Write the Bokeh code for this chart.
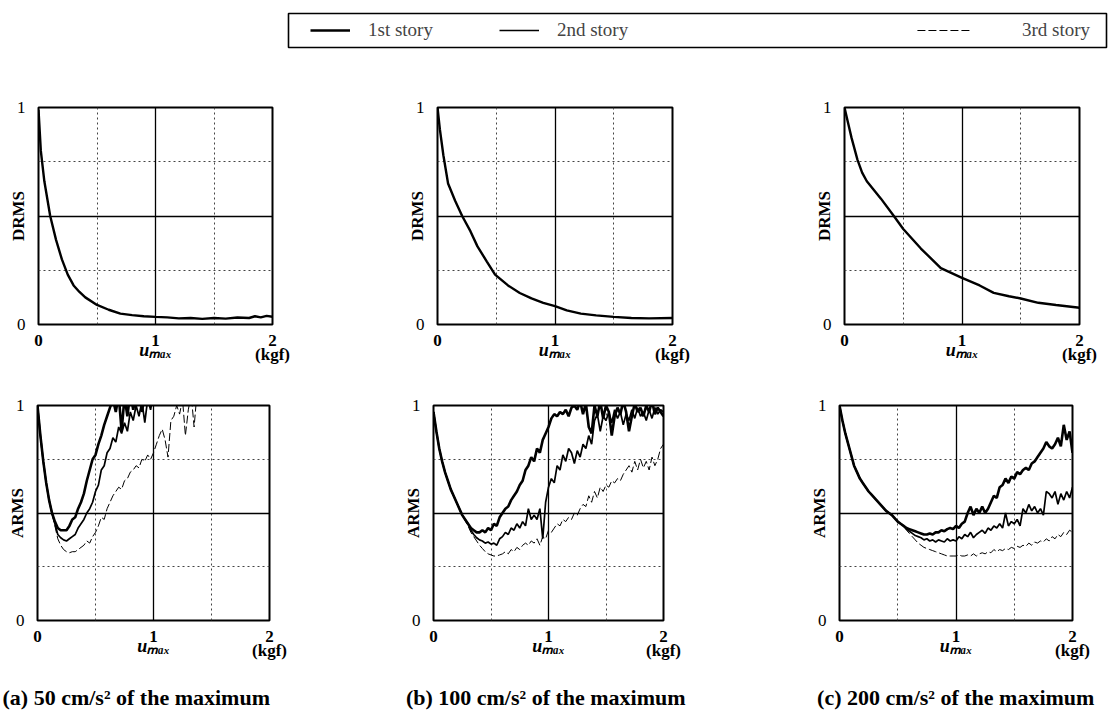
from bokeh.plotting import figure
from bokeh.layouts import column, row
from bokeh.models import FixedTicker, Grid, Label, Legend, LegendItem, Range1d
from bokeh.embed import file_html
from bokeh.resources import INLINE

# ---------------- data ----------------
x_arms = [0.0, 0.025, 0.05, 0.075, 0.1, 0.125, 0.15, 0.175, 0.2, 0.225,
          0.25, 0.275, 0.3, 0.325, 0.35, 0.375, 0.4, 0.425, 0.45, 0.475,
          0.5, 0.525, 0.55, 0.575, 0.6, 0.625, 0.65, 0.675, 0.7, 0.725,
          0.75, 0.775, 0.8, 0.825, 0.85, 0.875, 0.9, 0.925, 0.95, 0.975,
          1.0, 1.025, 1.05, 1.075, 1.1, 1.125, 1.15, 1.175, 1.2, 1.225,
          1.25, 1.275, 1.3, 1.325, 1.35, 1.375, 1.4, 1.425, 1.45, 1.475,
          1.5, 1.525, 1.55, 1.575, 1.6, 1.625, 1.65, 1.675, 1.7, 1.725,
          1.75, 1.775, 1.8, 1.825, 1.85, 1.875, 1.9, 1.925, 1.95, 1.975,
          2.0]

# DRMS (single curve per panel)
x_drms_a = [0, 0.02, 0.05, 0.1, 0.15, 0.2, 0.25, 0.3, 0.35, 0.4, 0.5, 0.6, 0.7, 0.8, 0.9,
            1.0, 1.1, 1.2, 1.3, 1.4, 1.5, 1.6, 1.7, 1.8, 1.85, 1.9, 1.95, 2.0]
drms_a = [0.99, 0.8, 0.66, 0.5, 0.39, 0.3, 0.23, 0.18, 0.15, 0.125, 0.09, 0.068, 0.05, 0.043, 0.038,
          0.035, 0.033, 0.028, 0.03, 0.026, 0.03, 0.027, 0.032, 0.03, 0.038, 0.033, 0.04, 0.036]

x_drms_b = [0, 0.02, 0.05, 0.09, 0.15, 0.21, 0.28, 0.34, 0.42, 0.49, 0.6, 0.7, 0.8, 0.9, 1.0,
            1.1, 1.22, 1.35, 1.5, 1.65, 1.8, 2.0]
drms_b = [1.0, 0.9, 0.78, 0.65, 0.57, 0.5, 0.43, 0.36, 0.29, 0.23, 0.18, 0.145, 0.12, 0.1, 0.085,
          0.065, 0.05, 0.042, 0.035, 0.03, 0.028, 0.03]

x_drms_c = [0, 0.03, 0.06, 0.11, 0.15, 0.19, 0.25, 0.31, 0.42, 0.5, 0.65, 0.82, 1.0, 1.15, 1.27,
            1.4, 1.5, 1.65, 1.8, 2.0]
drms_c = [1.0, 0.93, 0.86, 0.76, 0.7, 0.66, 0.62, 0.58, 0.5, 0.44, 0.35, 0.26, 0.215, 0.18, 0.146,
          0.13, 0.12, 0.1, 0.09, 0.077]

# ARMS (a) 50 cm/s^2
arms_a_1st = [1.0, 0.86, 0.74, 0.64, 0.56, 0.5, 0.46, 0.43, 0.42, 0.42,
              0.42, 0.44, 0.47, 0.48, 0.52, 0.55, 0.59, 0.65, 0.7, 0.75,
              0.77, 0.82, 0.86, 0.91, 0.95, 0.99, 1.03, 0.97, 1.05, 0.88,
              1.04, 0.95, 1.06, 0.98, 1.05, 1.08, 0.97, 1.06, 1.02, 1.1,
              1.05, 1.12, 1.15]
arms_a_2nd = [1.0, 0.86, 0.74, 0.64, 0.56, 0.5, 0.45, 0.4, 0.385, 0.375,
              0.37, 0.38, 0.39, 0.4, 0.43, 0.45, 0.47, 0.5, 0.52, 0.55,
              0.6, 0.63, 0.7, 0.72, 0.78, 0.8, 0.85, 0.83, 0.9, 0.87,
              0.92, 0.88, 0.97, 0.93, 1.0, 0.95, 1.02, 0.92, 1.03, 0.98,
              1.06, 1.04, 1.1, 1.15]
arms_a_3rd = [1.0, 0.86, 0.74, 0.64, 0.56, 0.5, 0.44, 0.38, 0.35, 0.33,
              0.32, 0.315, 0.32, 0.32, 0.33, 0.34, 0.35, 0.37, 0.36, 0.39,
              0.41, 0.44, 0.48, 0.47, 0.52, 0.55, 0.58, 0.6, 0.62, 0.61,
              0.65, 0.66, 0.69, 0.7, 0.72, 0.71, 0.75, 0.74, 0.77, 0.75,
              0.78, 0.82, 0.86, 0.89, 0.84, 0.76, 0.93, 0.95, 1.0, 0.96,
              1.03, 0.86, 0.98, 1.05, 0.9, 1.06, 1.1]

# ARMS (b) 100 cm/s^2
arms_b_1st = [0.97, 0.88, 0.8, 0.74, 0.69, 0.65, 0.61, 0.58, 0.55, 0.52,
              0.49, 0.47, 0.45, 0.43, 0.42, 0.41, 0.41, 0.42, 0.41, 0.43,
              0.42, 0.45, 0.44, 0.48, 0.5, 0.52, 0.53, 0.56, 0.58, 0.6,
              0.63, 0.65, 0.7, 0.72, 0.76, 0.74, 0.8, 0.78, 0.84, 0.87,
              0.9, 0.94, 0.96, 0.95, 0.97, 0.96, 0.98, 0.95, 0.99, 1.0,
              0.98, 1.02, 0.96, 1.01, 0.9, 0.87, 1.0, 0.95, 1.02, 0.94,
              1.0, 0.97, 0.86, 0.95, 0.99, 0.96, 1.02, 0.97, 0.88, 0.95,
              1.01, 0.97, 0.99, 0.95, 1.0, 0.97, 1.02, 0.96, 0.99, 0.97,
              0.95]
arms_b_2nd = [0.97, 0.88, 0.8, 0.74, 0.69, 0.65, 0.61, 0.58, 0.55, 0.52,
              0.49, 0.47, 0.45, 0.42, 0.4, 0.385, 0.375, 0.37, 0.36, 0.365,
              0.355, 0.36, 0.35, 0.38, 0.39, 0.41, 0.4, 0.43, 0.42, 0.45,
              0.43, 0.46, 0.44, 0.52, 0.47, 0.49, 0.47, 0.52, 0.38, 0.55,
              0.62, 0.66, 0.64, 0.72, 0.7, 0.77, 0.74, 0.8, 0.78, 0.73,
              0.79, 0.76, 0.82, 0.8, 0.86, 0.82, 0.93, 0.96, 0.88, 0.95,
              0.93, 0.97, 0.92, 0.98, 0.94, 0.97, 0.91, 0.96, 0.93, 0.98,
              0.94, 0.99, 0.95, 0.97, 0.93, 0.98, 0.94, 0.99, 0.96, 0.98,
              0.97]
arms_b_3rd = [0.97, 0.88, 0.8, 0.74, 0.69, 0.65, 0.61, 0.58, 0.55, 0.52,
              0.49, 0.465, 0.44, 0.41, 0.39, 0.37, 0.35, 0.335, 0.32, 0.31,
              0.305, 0.3, 0.3, 0.305, 0.31, 0.32, 0.31, 0.33, 0.32, 0.34,
              0.33, 0.35, 0.36, 0.35, 0.37, 0.36, 0.38, 0.35, 0.39, 0.38,
              0.42, 0.41, 0.43, 0.45, 0.44, 0.47, 0.46, 0.48, 0.47, 0.5,
              0.49, 0.52, 0.54, 0.53, 0.58, 0.55, 0.6, 0.57, 0.62, 0.6,
              0.63, 0.62, 0.65, 0.64, 0.66, 0.65, 0.68, 0.7, 0.72, 0.69,
              0.74, 0.7, 0.75, 0.71, 0.74, 0.7, 0.76, 0.72, 0.75, 0.8,
              0.82]

# ARMS (c) 200 cm/s^2
arms_c_1st = [1.0, 0.93, 0.87, 0.82, 0.77, 0.72, 0.69, 0.66, 0.64, 0.62,
              0.6, 0.585, 0.57, 0.555, 0.54, 0.525, 0.51, 0.5, 0.49, 0.475,
              0.46, 0.45, 0.44, 0.43, 0.425, 0.42, 0.415, 0.41, 0.405, 0.4,
              0.4, 0.405, 0.4, 0.41, 0.41, 0.42, 0.415, 0.425, 0.43, 0.425,
              0.44, 0.43, 0.45, 0.46, 0.5, 0.53, 0.49, 0.52, 0.5, 0.53,
              0.5, 0.52, 0.55, 0.58, 0.57, 0.62, 0.63, 0.66, 0.64, 0.67,
              0.66, 0.69, 0.68, 0.7, 0.71, 0.7, 0.73, 0.74, 0.76, 0.78,
              0.8, 0.83, 0.81, 0.8, 0.82, 0.85, 0.81, 0.91, 0.84, 0.88,
              0.78]
arms_c_2nd = [1.0, 0.93, 0.87, 0.82, 0.77, 0.72, 0.69, 0.66, 0.64, 0.62,
              0.6, 0.585, 0.57, 0.555, 0.54, 0.525, 0.51, 0.5, 0.49, 0.475,
              0.46, 0.45, 0.44, 0.425, 0.415, 0.405, 0.395, 0.39, 0.385, 0.375,
              0.38, 0.37, 0.375, 0.365, 0.375, 0.37, 0.365, 0.38, 0.37, 0.375,
              0.37, 0.39, 0.38, 0.4, 0.39, 0.41, 0.385, 0.4, 0.41, 0.42,
              0.405, 0.43, 0.42, 0.44, 0.43, 0.45, 0.43, 0.5, 0.44, 0.46,
              0.45, 0.47, 0.44, 0.52, 0.5, 0.54, 0.51, 0.53, 0.5, 0.52,
              0.49, 0.6, 0.59, 0.57, 0.6, 0.54, 0.59, 0.56, 0.6, 0.57,
              0.62]
arms_c_3rd = [1.0, 0.93, 0.87, 0.82, 0.77, 0.72, 0.69, 0.66, 0.64, 0.62,
              0.6, 0.585, 0.57, 0.555, 0.54, 0.525, 0.51, 0.5, 0.49, 0.475,
              0.46, 0.45, 0.44, 0.42, 0.405, 0.39, 0.375, 0.36, 0.35, 0.34,
              0.335, 0.33, 0.325, 0.32, 0.315, 0.31, 0.305, 0.3, 0.3, 0.3,
              0.3, 0.305, 0.3, 0.3, 0.305, 0.3, 0.31, 0.3, 0.31, 0.315,
              0.31, 0.32, 0.315, 0.33, 0.32, 0.33, 0.325, 0.335, 0.33, 0.34,
              0.335, 0.345, 0.34, 0.35, 0.345, 0.36, 0.35, 0.365, 0.36, 0.37,
              0.365, 0.38, 0.37, 0.39, 0.38, 0.4, 0.39, 0.41, 0.4, 0.42,
              0.41]

x_ticks = [0, 1, 2]
x_tick_labels = {0: "0", 1: "1", 2: "2\n(kgf)"}
y_ticks = [0, 1]
x_title = "u\u2098\u2090\u2093"
story_labels = ["1st story", "2nd story", "3rd story"]
captions = ["(a)  50 cm/s\u00b2 of the maximum",
            "(b)  100 cm/s\u00b2 of the maximum",
            "(c)  200 cm/s\u00b2 of the maximum"]

# ---------------- styles ----------------
FONT = "Liberation Serif"
STORY_STYLE = [dict(line_width=2.6, line_color="black"),
               dict(line_width=1.7, line_color="black"),
               dict(line_width=1.0, line_color="black", line_dash="8 3")]


def panel(width, height, bl, br, bt, bb, ylabel):
    p = figure(width=width, height=height, min_border_left=bl, min_border_right=br,
               min_border_top=bt, min_border_bottom=bb, x_range=Range1d(0, 2),
               y_range=Range1d(0, 1), output_backend="svg", toolbar_location=None, tools="")
    p.title_location = None
    p.outline_line_color = "black"
    p.outline_line_width = 2
    p.background_fill_color = "white"
    p.border_fill_color = "white"
    p.xaxis.ticker = FixedTicker(ticks=x_ticks)
    p.xaxis.major_label_overrides = x_tick_labels
    p.yaxis.ticker = FixedTicker(ticks=y_ticks)
    for ax in (p.xaxis[0], p.yaxis[0]):
        ax.axis_line_color = None
        ax.major_tick_line_color = None
        ax.minor_tick_line_color = None
        ax.major_label_text_font = FONT
        ax.major_label_text_font_size = "17px"
        ax.major_label_text_color = "black"
        ax.axis_label_text_font = FONT
        ax.axis_label_text_color = "black"
    p.xaxis.major_label_text_font_style = "bold"
    p.xaxis.major_label_text_line_height = 0.75
    p.yaxis.major_label_text_font_style = "normal"
    p.xaxis.major_label_standoff = 0
    p.yaxis.major_label_standoff = 7
    p.yaxis.axis_label = ylabel
    p.yaxis.axis_label_text_font_size = "17px"
    p.yaxis.axis_label_text_font_style = "bold"
    p.yaxis.axis_label_standoff = -14
    p.xaxis.axis_label = x_title
    p.xaxis.axis_label_text_font_size = "18px"
    p.xaxis.axis_label_text_font_style = "bold italic"
    p.xaxis.axis_label_standoff = -27
    p.xgrid.ticker = FixedTicker(ticks=[0.5, 1.5])
    p.ygrid.ticker = FixedTicker(ticks=[0.25, 0.75])
    for g in (p.xgrid[0], p.ygrid[0]):
        g.grid_line_color = "#444444"
        g.grid_line_dash = "2 3"
        g.grid_line_width = 1
    p.add_layout(Grid(dimension=0, ticker=FixedTicker(ticks=[1]),
                      grid_line_color="black", grid_line_width=1.3))
    p.add_layout(Grid(dimension=1, ticker=FixedTicker(ticks=[0.5]),
                      grid_line_color="black", grid_line_width=1.3))
    return p


def draw_arms(p, series):
    for ys, st in zip(series, STORY_STYLE):
        n = min(len(ys), len(x_arms))
        p.line(x_arms[:n], ys[:n], **st)


# ---------------- legend strip ----------------
leg = figure(width=1108, height=58, min_border_left=288, min_border_right=2,
             min_border_top=13, min_border_bottom=11, x_range=Range1d(0, 1), y_range=Range1d(0, 1),
             x_axis_location=None, y_axis_location=None, output_backend="svg",
             toolbar_location=None, tools="")
leg.title_location = None
leg.grid.visible = False
leg.outline_line_color = "black"
leg.outline_line_width = 1.6
rs = [leg.line(x=[-5, -4], y=[-5, -5], **st) for st in STORY_STYLE]
common = dict(orientation="horizontal", border_line_color=None, background_fill_alpha=0,
              padding=0, label_text_font=FONT, label_text_font_size="19px",
              glyph_height=20, label_height=20)
leg.add_layout(Legend(items=[LegendItem(label=story_labels[0], renderers=[rs[0]]),
                             LegendItem(label=story_labels[1], renderers=[rs[1]])],
                      location="left", margin=22, glyph_width=40, label_standoff=18,
                      spacing=66, **common))
leg.add_layout(Legend(items=[LegendItem(label=story_labels[2], renderers=[rs[2]])],
                      location="right", margin=16, glyph_width=55, label_standoff=50,
                      **common))

# ---------------- top row: DRMS ----------------
a_top = panel(400, 312, 38, 128, 49, 46, "DRMS")
a_top.line(x_drms_a, drms_a, line_width=2.4, line_color="black")
b_top = panel(390, 312, 37, 118, 49, 46, "DRMS")
b_top.line(x_drms_b, drms_b, line_width=2.4, line_color="black")
c_top = panel(320, 312, 54, 31, 49, 46, "DRMS")
c_top.line(x_drms_c, drms_c, line_width=2.4, line_color="black")

# ---------------- bottom row: ARMS ----------------
a_bot = panel(400, 300, 37, 131, 35, 50, "ARMS")
draw_arms(a_bot, [arms_a_1st, arms_a_2nd, arms_a_3rd])
b_bot = panel(390, 300, 31, 127, 35, 50, "ARMS")
draw_arms(b_bot, [arms_b_1st, arms_b_2nd, arms_b_3rd])
c_bot = panel(320, 300, 49, 38, 35, 50, "ARMS")
draw_arms(c_bot, [arms_c_1st, arms_c_2nd, arms_c_3rd])

# ---------------- caption strip (pixel-like coordinates) ----------------
cap = figure(width=1110, height=46, min_border_left=0, min_border_right=0,
             min_border_top=0, min_border_bottom=0, x_range=Range1d(0, 1110),
             y_range=Range1d(0, 46), x_axis_location=None, y_axis_location=None,
             output_backend="svg", toolbar_location=None, tools="")
cap.title_location = None
cap.grid.visible = False
cap.outline_line_color = None
cap_specs = [(2, "left"), (548, "center"), (958, "center")]
for text, (cx, al) in zip(captions, cap_specs):
    cap.add_layout(Label(x=cx, y=19, text=text, text_font=FONT, text_font_size="22px",
                         text_font_style="bold", text_align=al, text_baseline="middle",
                         text_color="black"))

layout = column(row(leg), row(a_top, b_top, c_top), row(a_bot, b_bot, c_bot), row(cap))
open("out.html", "w").write(file_html(layout, INLINE))
